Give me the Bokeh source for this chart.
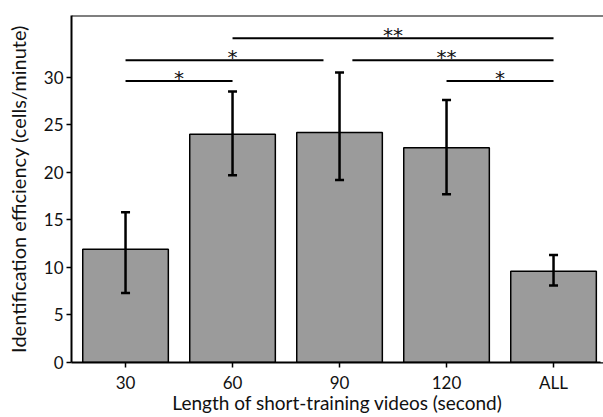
from bokeh.plotting import figure
from bokeh.models import Range1d, FixedTicker, ColumnDataSource, Span
from bokeh.core.properties import value
from bokeh.embed import file_html
from bokeh.resources import INLINE

categories = ["30", "60", "90", "120", "ALL"]
efficiency = [11.9, 24.0, 24.2, 22.6, 9.6]
err_low = [7.3, 19.7, 19.2, 17.7, 8.1]
err_high = [15.8, 28.5, 30.5, 27.6, 11.3]

# significance brackets (category index start/end, height, label)
sig_x0 = [0, 0, 2.12, 1, 3]
sig_x1 = [1, 1.85, 4, 4, 4]
sig_y = [29.6, 31.8, 31.8, 34.1, 29.6]
sig_xl = [0.5, 1.0, 3.0, 2.5, 3.5]
sig_label = ["*", "*", "**", "**", "*"]

yticks = [0, 5, 10, 15, 20, 25, 30]
y_top = 36.5
x_end = 4.467

FONT = "Lato"
xpos = list(range(len(categories)))

p = figure(width=603, height=417, output_backend="svg", toolbar_location=None,
           x_range=Range1d(-0.505, x_end), y_range=Range1d(0, y_top),
           min_border_left=71, min_border_right=0, min_border_top=15, min_border_bottom=55)
p.outline_line_color = None
p.outline_line_width = 0
p.grid.visible = False
p.background_fill_color = None
p.border_fill_color = "white"

bars = ColumnDataSource(dict(x=xpos, top=efficiency, lower=err_low, upper=err_high))
p.vbar(x="x", top="top", width=0.8, bottom=0, source=bars,
       fill_color="#9b9b9b", line_color="black", line_width=1.5)

# error bars drawn above the bars
p.segment(x0="x", y0="lower", x1="x", y1="upper", source=bars, line_color="black", line_width=2.5)
p.dash(x="x", y="upper", source=bars, size=9, angle=0, line_color="black", line_width=2.5)
p.dash(x="x", y="lower", source=bars, size=9, angle=0, line_color="black", line_width=2.5)

sig = ColumnDataSource(dict(x0=sig_x0, x1=sig_x1, y=sig_y, xl=sig_xl, lab=sig_label))
p.segment(x0="x0", y0="y", x1="x1", y1="y", source=sig, line_color="black", line_width=2)
p.text(x="xl", y="y", text="lab", source=sig, text_font=value("DejaVu Sans"),
       text_font_size=value("20px"),
       text_align="center", text_baseline="alphabetic", y_offset=-3, text_color="#111111")

# hide the right frame edge (the reference shows no right border), then the top frame line
p.add_layout(Span(location=x_end, dimension="height", line_color="white", line_width=6))
p.add_layout(Span(location=y_top, dimension="width", line_color="black", line_width=2))

ax = p.xaxis[0]
ax.ticker = FixedTicker(ticks=xpos)
ax.major_label_overrides = {i: c for i, c in zip(xpos, categories)}
ax.axis_label = "Length of short-training videos (second)"
ay = p.yaxis[0]
ay.ticker = FixedTicker(ticks=yticks)
ay.axis_label = "Identification efficiency (cells/minute)"

for a in (ax, ay):
    a.axis_line_color = "black"
    a.axis_line_width = 2
    a.major_tick_line_color = "black"
    a.major_tick_line_width = 1.5
    a.major_tick_out = 5
    a.major_tick_in = 0
    a.minor_tick_line_color = None
    a.major_label_text_font = FONT
    a.major_label_text_font_size = "17px"
    a.major_label_text_color = "#111111"
    a.axis_label_text_font = FONT
    a.axis_label_text_font_style = "normal"
    a.axis_label_text_color = "#111111"
ax.axis_label_text_font_size = "19px"
ay.axis_label_text_font_size = "20px"
ax.major_label_standoff = 4
ax.axis_label_standoff = -5
ay.major_label_standoff = 3
ay.axis_label_standoff = 11

open("out.html", "w").write(file_html(p, INLINE))
